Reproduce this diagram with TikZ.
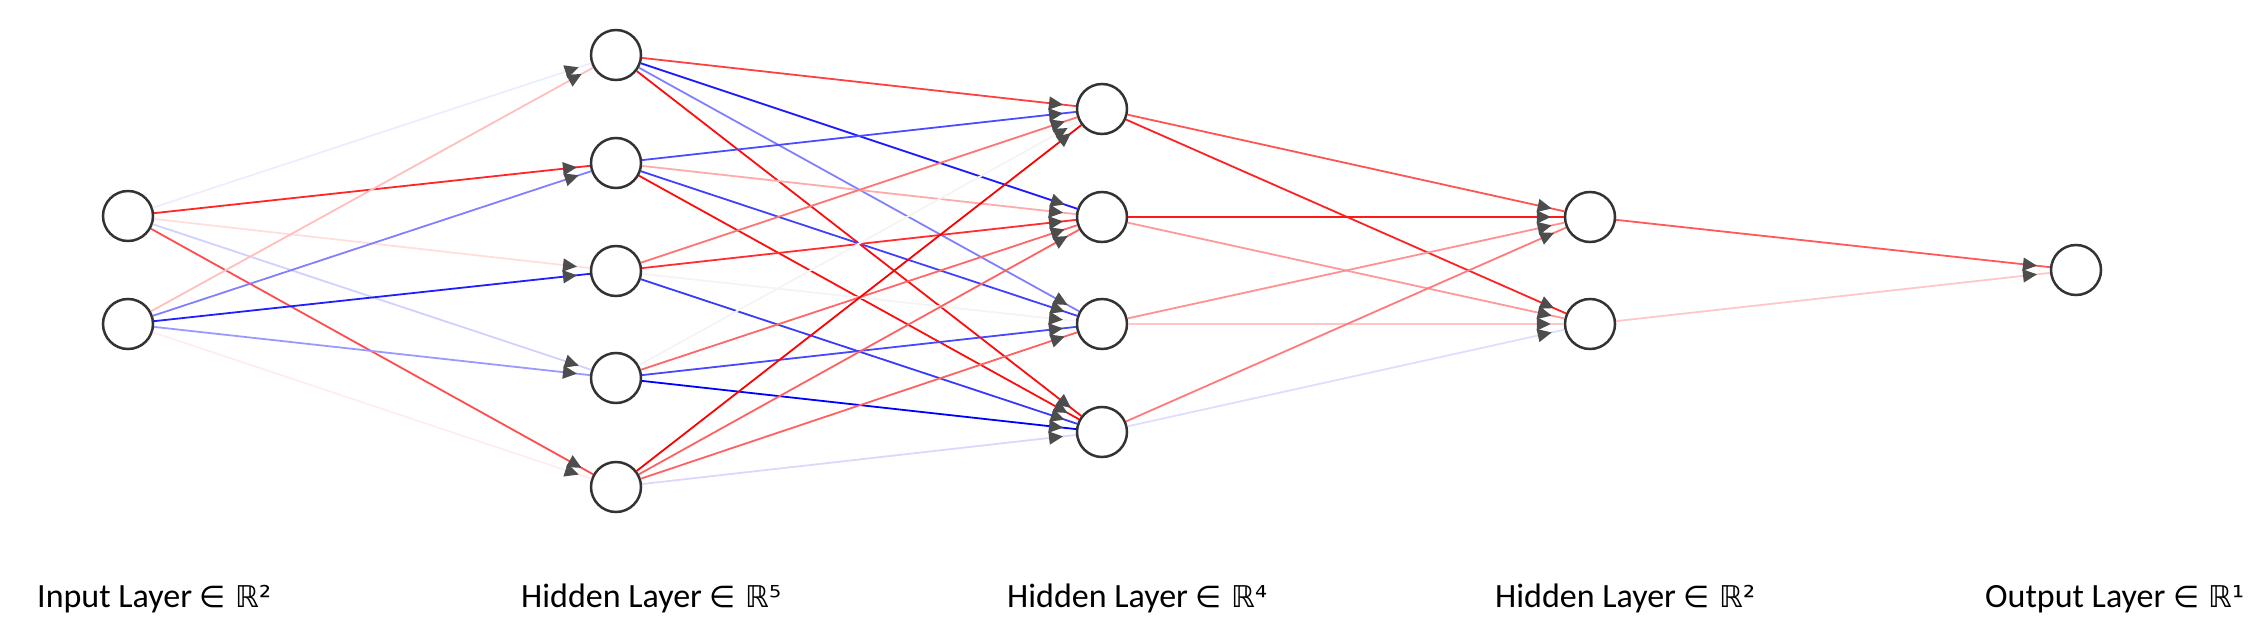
\documentclass[tikz,border=0pt]{standalone}
\usepackage{fontspec}
\setmainfont{Carlito}
\newfontfamily\symfont{DejaVu Sans}
\usetikzlibrary{arrows.meta,decorations.markings}
\definecolor{nodegray}{HTML}{333333}
\definecolor{arrowgray}{HTML}{4D4D4D}
\definecolor{faintgray}{HTML}{F4F4F4}
\tikzset{
  neuron/.style={circle, draw=nodegray, line width=2.5pt, fill=white, minimum size=50pt, inner sep=0pt},
  conn/.style={line width=1.8pt, postaction={decorate},
    decoration={markings, mark=at position -13pt with {\arrow{Triangle[length=14pt,width=13pt,color=arrowgray]}}}},
  lab/.style={anchor=base west, inner sep=0pt, font=\fontsize{34}{40}\selectfont}
}
\newcommand\nnedge[3]{\draw[conn,draw=#3] (#1) -- (#2);}
\newcommand\inR[1]{{\symfont\fontsize{30}{36}\selectfont ∈ ℝ#1}}
\begin{document}
\begin{tikzpicture}[x=1pt,y=-1pt]
\useasboundingbox (0,0) rectangle (2256,636);
% nodes
\node[neuron] (I1) at (128,216) {};
\node[neuron] (I2) at (128,324) {};
\node[neuron] (Aa) at (616,55) {};
\node[neuron] (Ab) at (616,163) {};
\node[neuron] (Ac) at (616,271) {};
\node[neuron] (Ad) at (616,378) {};
\node[neuron] (Ae) at (616,487) {};
\node[neuron] (Ba) at (1102,109) {};
\node[neuron] (Bb) at (1102,217) {};
\node[neuron] (Bc) at (1102,324) {};
\node[neuron] (Bd) at (1102,432) {};
\node[neuron] (Ca) at (1590,217) {};
\node[neuron] (Cb) at (1590,324) {};
\node[neuron] (O) at (2076,270) {};
% edges layer 1 -> 2
\nnedge{I1}{Aa}{blue!7}
\nnedge{I1}{Ab}{red!85}
\nnedge{I1}{Ac}{red!13}
\nnedge{I1}{Ad}{blue!18}
\nnedge{I1}{Ae}{red!70}
\nnedge{I2}{Aa}{red!25}
\nnedge{I2}{Ab}{blue!50}
\nnedge{I2}{Ac}{blue!88}
\nnedge{I2}{Ad}{blue!40}
\nnedge{I2}{Ae}{red!7}
% layer 2 -> 3
\nnedge{Aa}{Ba}{red!75}
\nnedge{Aa}{Bb}{blue!90}
\nnedge{Aa}{Bc}{blue!50}
\nnedge{Aa}{Bd}{red!95}
\nnedge{Ab}{Ba}{blue!70}
\nnedge{Ab}{Bb}{red!33}
\nnedge{Ab}{Bc}{blue!75}
\nnedge{Ab}{Bd}{red!95}
\nnedge{Ac}{Ba}{red!55}
\nnedge{Ac}{Bb}{red!82}
\nnedge{Ac}{Bc}{faintgray}
\nnedge{Ac}{Bd}{blue!78}
\nnedge{Ad}{Ba}{faintgray}
\nnedge{Ad}{Bb}{red!60}
\nnedge{Ad}{Bc}{blue!72}
\nnedge{Ad}{Bd}{blue}
\nnedge{Ae}{Ba}{red}
\nnedge{Ae}{Bb}{red!62}
\nnedge{Ae}{Bc}{red!62}
\nnedge{Ae}{Bd}{blue!15}
% layer 3 -> 4
\nnedge{Ba}{Ca}{red!67}
\nnedge{Ba}{Cb}{red!87}
\nnedge{Bb}{Ca}{red!90}
\nnedge{Bb}{Cb}{red!40}
\nnedge{Bc}{Ca}{red!43}
\nnedge{Bc}{Cb}{red!22}
\nnedge{Bd}{Ca}{red!52}
\nnedge{Bd}{Cb}{blue!13}
% layer 4 -> 5
\nnedge{Ca}{O}{red!65}
\nnedge{Cb}{O}{red!22}
% labels
\node[lab] (L1) at (37,607) {Input Layer \inR{²}};
\node[lab] (L2) at (521,607) {Hidden Layer \inR{⁵}};
\node[lab] (L3) at (1007,607) {Hidden Layer \inR{⁴}};
\node[lab] (L4) at (1495,607) {Hidden Layer \inR{²}};
\node[lab] (L5) at (1985,607) {Output Layer \inR{¹}};
\end{tikzpicture}
\end{document}
